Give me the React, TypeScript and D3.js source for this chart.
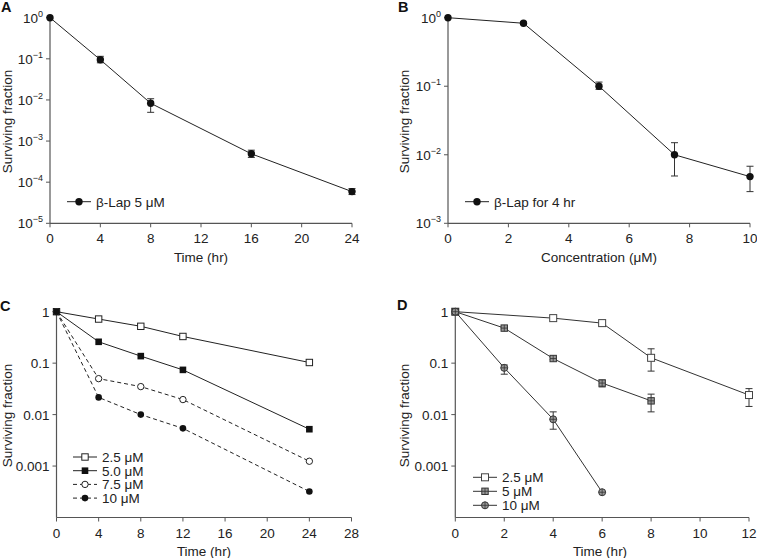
import React from "react";
import * as d3 from "d3";

// ---------- data ----------
const timeA = [0, 4, 8, 16, 24];
const survA = [1, 0.095, 0.0083, 0.00049, 0.000059];
const loA = [null, 0.08, 0.005, 0.0004, 0.00005];
const hiA = [null, 0.115, 0.0107, 0.0006, 0.00007];

const concB = [0, 2.5, 5, 7.5, 10];
const survB = [1, 0.83, 0.1, 0.01, 0.0048];
const loB = [null, 0.8, 0.09, 0.0049, 0.0029];
const hiB = [null, 0.86, 0.115, 0.015, 0.0068];

const timeC = [0, 4, 8, 12, 24];
const c25 = [1, 0.72, 0.52, 0.33, 0.103];
const c50 = [1, 0.26, 0.137, 0.074, 0.0052];
const c75 = [1, 0.05, 0.035, 0.0196, 0.00124];
const c100 = [1, 0.0216, 0.01, 0.0054, 0.00032];

const timeD25 = [0, 4, 6, 8, 12];
const d25 = [1, 0.75, 0.6, 0.127, 0.024];
const loD25 = [null, null, null, 0.07, 0.0144];
const hiD25 = [null, null, null, 0.19, 0.032];
const timeD5 = [0, 2, 4, 6, 8];
const d5 = [1, 0.48, 0.123, 0.041, 0.0185];
const loD5 = [null, 0.46, 0.117, 0.0345, 0.0113];
const hiD5 = [null, 0.5, 0.13, 0.047, 0.025];
const timeD10 = [0, 2, 4, 6];
const d10 = [1, 0.081, 0.0081, 0.00031];
const loD10 = [null, 0.061, 0.0052, null];
const hiD10 = [null, 0.092, 0.0113, null];

const ticksA = [0, 4, 8, 12, 16, 20, 24];
const ticksB = [0, 2, 4, 6, 8, 10];
const ticksC = [0, 4, 8, 12, 16, 20, 24, 28];
const ticksD = [0, 2, 4, 6, 8, 10, 12];
const expA = [0, -1, -2, -3, -4, -5];
const expB = [0, -1, -2, -3];
const decCD = [1, 0.1, 0.01, 0.001];
const decLabelsCD = ["1", "0.1", "0.01", "0.001"];

const FONT = "'Liberation Sans', Arial, Helvetica, sans-serif";
const FS = 13.5;
const AX = "#555";
const LN = "#222";

type Series = {
  xs: number[];
  ys: number[];
  lo?: (number | null)[];
  hi?: (number | null)[];
  marker: string;
  dash?: string;
  label: string;
};

function Marker({ kind, x, y }: { kind: string; x: number; y: number }) {
  switch (kind) {
    case "dot":
      return <circle cx={x} cy={y} r={3.7} fill="#111" />;
    case "dotS":
      return <circle cx={x} cy={y} r={3.3} fill="#111" />;
    case "ocirc":
      return <circle cx={x} cy={y} r={3.2} fill="#fff" stroke={LN} strokeWidth={1} />;
    case "osq":
      return <rect x={x - 3.2} y={y - 3.2} width={6.4} height={6.4} fill="#fff" stroke={LN} strokeWidth={1} />;
    case "osqL":
      return <rect x={x - 3.5} y={y - 3.5} width={7} height={7} fill="#fff" stroke="#444" strokeWidth={1} />;
    case "fsq":
      return <rect x={x - 3.3} y={y - 3.3} width={6.6} height={6.6} fill="#111" />;
    case "gsq":
      return (
        <g>
          <rect x={x - 3.2} y={y - 3.2} width={6.4} height={6.4} fill="#999" stroke="#333" strokeWidth={1} />
          <line x1={x - 3.2} x2={x + 3.2} y1={y} y2={y} stroke="#333" strokeWidth={0.8} />
          <line x1={x} x2={x} y1={y - 3.2} y2={y + 3.2} stroke="#333" strokeWidth={0.8} />
        </g>
      );
    case "xcirc":
      return (
        <g>
          <circle cx={x} cy={y} r={3.5} fill="#999" stroke="#333" strokeWidth={1} />
          <line x1={x - 3.5} x2={x + 3.5} y1={y} y2={y} stroke="#333" strokeWidth={0.8} />
          <line x1={x} x2={x} y1={y - 3.5} y2={y + 3.5} stroke="#333" strokeWidth={0.8} />
        </g>
      );
    default:
      return null;
  }
}

type PanelProps = {
  letter: string;
  letterPos: [number, number];
  xr: [number, number];
  yr: [number, number];
  xDomain: [number, number];
  yDomain: [number, number];
  xTicks: number[];
  yTickVals: number[];
  yTickLabel: (v: number, i: number) => React.ReactNode;
  xTitle: string;
  xTitleX: number;
  yTitleX: number;
  series: Series[];
  legendX: number;
  legendY: number;
  legendStep: number;
  lineColor: string;
};

function Panel(p: PanelProps) {
  const x = d3.scaleLinear().domain(p.xDomain).range(p.xr);
  const y = d3.scaleLog().domain(p.yDomain).range([p.yr[1], p.yr[0]]);
  const line = d3
    .line<[number, number]>()
    .x((d) => x(d[0]))
    .y((d) => y(d[1]));
  const [xl, xh] = p.xr;
  const [yt, yb] = p.yr;
  return (
    <g fontFamily={FONT}>
      <text x={p.letterPos[0]} y={p.letterPos[1]} fontSize={14.5} fontWeight="bold" fill="#111">
        {p.letter}
      </text>
      <line x1={xl} x2={xl} y1={yt} y2={yb} stroke={AX} strokeWidth={1.2} />
      <line x1={xl} x2={xh} y1={yb} y2={yb} stroke={AX} strokeWidth={1.2} />
      {p.xTicks.map((t) => (
        <g key={"xt" + t}>
          <line x1={x(t)} x2={x(t)} y1={yb} y2={yb + 4} stroke={AX} strokeWidth={1} />
          <text x={x(t)} y={yb + 20} fontSize={FS} textAnchor="middle" fill="#222">
            {t}
          </text>
        </g>
      ))}
      {p.yTickVals.map((v, i) => (
        <g key={"yt" + i}>
          <line x1={xl - 4} x2={xl} y1={y(v)} y2={y(v)} stroke={AX} strokeWidth={1} />
          {p.yTickLabel(v, i)}
        </g>
      ))}
      <text x={p.xTitleX} y={yb + 38.5} fontSize={FS} textAnchor="middle" fill="#222">
        {p.xTitle}
      </text>
      <text
        transform={`translate(${p.yTitleX},${(yt + yb) / 2 + 1}) rotate(-90)`}
        fontSize={FS}
        textAnchor="middle"
        fill="#222"
      >
        Surviving fraction
      </text>
      {p.series.map((s, si) => {
        const pts = s.xs.map((xv, i) => [xv, s.ys[i]] as [number, number]);
        return (
          <g key={"s" + si}>
            <path d={line(pts) || ""} fill="none" stroke={p.lineColor} strokeWidth={1} strokeDasharray={s.dash} />
            {s.lo &&
              s.hi &&
              s.xs.map((xv, i) => {
                const lo = s.lo![i];
                const hi = s.hi![i];
                if (lo == null || hi == null) return null;
                const cx = x(xv);
                return (
                  <g key={"e" + i} stroke="#333" strokeWidth={1}>
                    <line x1={cx} x2={cx} y1={y(lo)} y2={y(hi)} />
                    <line x1={cx - 3.5} x2={cx + 3.5} y1={y(lo)} y2={y(lo)} />
                    <line x1={cx - 3.5} x2={cx + 3.5} y1={y(hi)} y2={y(hi)} />
                  </g>
                );
              })}
            {pts.map((d, i) => (
              <Marker key={"m" + i} kind={s.marker} x={x(d[0])} y={y(d[1])} />
            ))}
          </g>
        );
      })}
      {p.series.map((s, si) => {
        const ly = p.legendY + si * p.legendStep;
        return (
          <g key={"lg" + si}>
            <line
              x1={p.legendX}
              x2={p.legendX + 24}
              y1={ly}
              y2={ly}
              stroke={p.lineColor}
              strokeWidth={1}
              strokeDasharray={s.dash}
            />
            <Marker kind={s.marker} x={p.legendX + 12} y={ly} />
            <text x={p.legendX + 29} y={ly + 5} fontSize={FS} fill="#222">
              {s.label}
            </text>
          </g>
        );
      })}
    </g>
  );
}

function supLabel(xl: number, yv: number, e: number) {
  const txt = e === 0 ? "0" : "\u2212" + Math.abs(e);
  return (
    <text x={xl - 7} y={yv + 5} fontSize={FS} textAnchor="end" fill="#222">
      10
      <tspan dy={-6} fontSize={9}>
        {txt}
      </tspan>
    </text>
  );
}

export default function App() {
  const yA = d3.scaleLog().domain([1e-5, 1]).range([223.3, 17.7]);
  const yB = d3.scaleLog().domain([1e-3, 1]).range([223.3, 17.7]);
  const yCD = d3.scaleLog().domain([1e-4, 1]).range([517.5, 311.7]);

  const seriesA: Series[] = [
    { xs: timeA, ys: survA, lo: loA, hi: hiA, marker: "dot", label: "\u03b2-Lap 5 \u03bcM" },
  ];
  const seriesB: Series[] = [
    { xs: concB, ys: survB, lo: loB, hi: hiB, marker: "dot", label: "\u03b2-Lap for 4 hr" },
  ];
  const seriesC: Series[] = [
    { xs: timeC, ys: c25, marker: "osq", label: "2.5 \u03bcM" },
    { xs: timeC, ys: c50, marker: "fsq", label: "5.0 \u03bcM" },
    { xs: timeC, ys: c75, marker: "ocirc", dash: "4,3", label: "7.5 \u03bcM" },
    { xs: timeC, ys: c100, marker: "dotS", dash: "4,3", label: "10 \u03bcM" },
  ];
  const seriesD: Series[] = [
    { xs: timeD25, ys: d25, lo: loD25, hi: hiD25, marker: "osqL", label: "2.5 \u03bcM" },
    { xs: timeD5, ys: d5, lo: loD5, hi: hiD5, marker: "gsq", label: "5 \u03bcM" },
    { xs: timeD10, ys: d10, lo: loD10, hi: hiD10, marker: "xcirc", label: "10 \u03bcM" },
  ];

  return (
    <div style={{ position: "absolute", left: 0, top: 0 }}>
      <svg width={757} height={558} style={{ display: "block", background: "#fff" }}>
        <Panel
          letter="A"
          letterPos={[1, 12]}
          xr={[50, 352]}
          yr={[17.7, 223.3]}
          xDomain={[0, 24]}
          yDomain={[1e-5, 1]}
          xTicks={ticksA}
          yTickVals={expA.map((e) => Math.pow(10, e))}
          yTickLabel={(v, i) => supLabel(50, yA(v), expA[i])}
          xTitle="Time (hr)"
          xTitleX={201}
          yTitleX={11.5}
          series={seriesA}
          legendX={67}
          legendY={201.7}
          legendStep={14}
          lineColor={LN}
        />
        <Panel
          letter="B"
          letterPos={[398, 12]}
          xr={[448, 750]}
          yr={[17.7, 223.3]}
          xDomain={[0, 10]}
          yDomain={[1e-3, 1]}
          xTicks={ticksB}
          yTickVals={expB.map((e) => Math.pow(10, e))}
          yTickLabel={(v, i) => supLabel(448, yB(v), expB[i])}
          xTitle={"Concentration (\u03bcM)"}
          xTitleX={599}
          yTitleX={409}
          series={seriesB}
          legendX={465}
          legendY={201.7}
          legendStep={14}
          lineColor={LN}
        />
        <Panel
          letter="C"
          letterPos={[0, 311]}
          xr={[56.5, 351.5]}
          yr={[311.7, 517.5]}
          xDomain={[0, 28]}
          yDomain={[1e-4, 1]}
          xTicks={ticksC}
          yTickVals={decCD}
          yTickLabel={(v, i) => (
            <text x={56.5 - 7} y={yCD(v) + 5} fontSize={FS} textAnchor="end" fill="#222">
              {decLabelsCD[i]}
            </text>
          )}
          xTitle="Time (hr)"
          xTitleX={204}
          yTitleX={11.5}
          series={seriesC}
          legendX={73}
          legendY={457}
          legendStep={13.7}
          lineColor={LN}
        />
        <Panel
          letter="D"
          letterPos={[397, 310]}
          xr={[455.3, 749]}
          yr={[311.7, 517.5]}
          xDomain={[0, 12]}
          yDomain={[1e-4, 1]}
          xTicks={ticksD}
          yTickVals={decCD}
          yTickLabel={(v, i) => (
            <text x={455.3 - 7} y={yCD(v) + 5} fontSize={FS} textAnchor="end" fill="#222">
              {decLabelsCD[i]}
            </text>
          )}
          xTitle="Time (hr)"
          xTitleX={600}
          yTitleX={409}
          series={seriesD}
          legendX={473}
          legendY={477.3}
          legendStep={14}
          lineColor="#333"
        />
      </svg>
    </div>
  );
}
